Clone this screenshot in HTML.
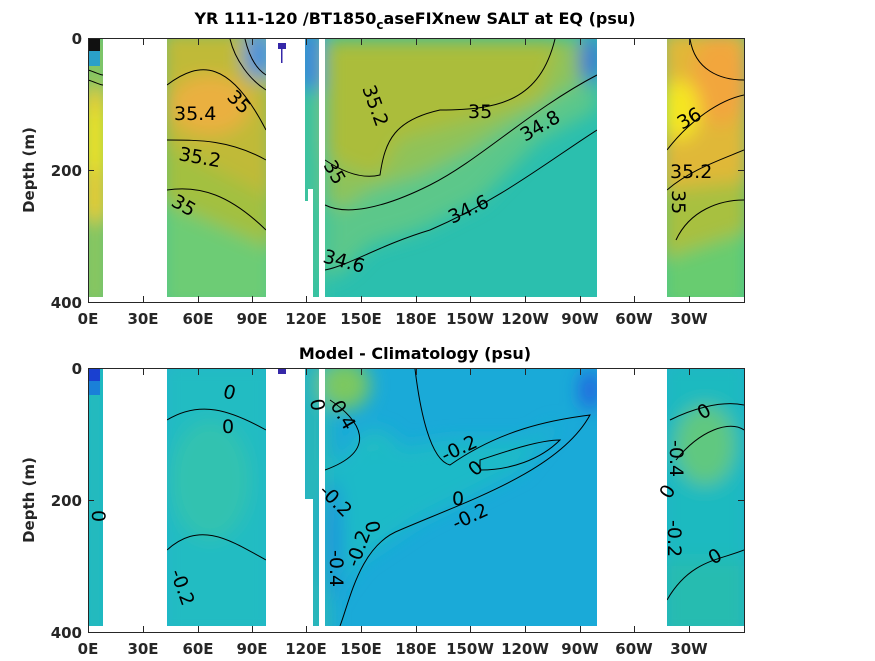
<!DOCTYPE html>
<html><head><meta charset="utf-8"><style>
body{margin:0;background:#fff;width:875px;height:656px;overflow:hidden}
svg text{font-family:"DejaVu Sans","Liberation Sans",sans-serif}
</style></head><body>
<svg width="875" height="656" xmlns="http://www.w3.org/2000/svg">
<defs>
<filter id="b" x="-20%" y="-20%" width="140%" height="140%"><feGaussianBlur stdDeviation="9"/></filter>
<clipPath id="c1"><rect x="88" y="39" width="15" height="258"/><rect x="167" y="39" width="99" height="258"/><rect x="305" y="39" width="8" height="150"/><rect x="305" y="189" width="3" height="12"/><rect x="313" y="39" width="6" height="258"/><rect x="325" y="39" width="272" height="258"/><rect x="667" y="39" width="77" height="258"/></clipPath>
<clipPath id="c2"><rect x="88" y="369" width="15" height="257"/><rect x="167" y="369" width="99" height="257"/><rect x="305" y="369" width="8" height="130"/><rect x="313" y="369" width="6" height="257"/><rect x="325" y="369" width="272" height="257"/><rect x="667" y="369" width="77" height="257"/></clipPath>
</defs>
<text x="415" y="24" font-size="16" font-weight="bold" text-anchor="middle">YR 111-120 /BT1850<tspan font-size="12" dy="5">c</tspan><tspan dy="-5">aseFIXnew SALT at EQ (psu)</tspan></text>
<text x="415" y="359" font-size="16" font-weight="bold" text-anchor="middle">Model - Climatology (psu)</text>

<!-- TOP -->
<g clip-path="url(#c1)">
<rect x="80" y="30" width="680" height="280" fill="#2bbfae"/>
<g filter="url(#b)">
<rect x="80" y="30" width="30" height="280" fill="#8ec65a"/>
<rect x="80" y="90" width="30" height="130" fill="#e9cc30"/>
<rect x="80" y="110" width="30" height="60" fill="#f0e020"/>
<rect x="160" y="30" width="115" height="280" fill="#6dcc74"/>
<polygon points="160,30 275,30 275,250 160,200" fill="#a3c040"/>
<polygon points="160,30 275,30 275,200 160,140" fill="#c0ba38"/>
<ellipse cx="210" cy="105" rx="40" ry="30" fill="#eab040"/>
<ellipse cx="258" cy="55" rx="14" ry="25" fill="#3a90e0"/>
<polygon points="325,39 597,39 597,110 540,140 480,200 420,230 370,245 345,270 325,280" fill="#5cc78a"/>
<polygon points="325,39 597,39 597,70 540,105 470,150 420,175 370,190 340,210 325,200" fill="#8ec35a"/>
<polygon points="325,39 560,39 540,100 470,120 400,140 380,175 355,170 335,160 325,150" fill="#abbd3a"/>
<rect x="300" y="30" width="20" height="280" fill="#40c49a"/>
<rect x="300" y="30" width="20" height="60" fill="#3a80e0"/>
<rect x="660" y="30" width="90" height="280" fill="#68cc70"/>
<polygon points="660,30 750,30 750,230 660,260" fill="#a8c040"/>
<polygon points="660,30 750,30 750,180 660,190" fill="#e0b838"/>
<ellipse cx="720" cy="80" rx="30" ry="45" fill="#f2a63c"/>
<ellipse cx="680" cy="110" rx="20" ry="30" fill="#f5e620"/>
<ellipse cx="590" cy="60" rx="10" ry="25" fill="#3a70d8"/>
</g>
<rect x="88" y="39" width="12" height="12" fill="#111"/>
<rect x="88" y="51" width="12" height="15" fill="#2aa0c8"/>
<g fill="none" stroke="#000" stroke-width="1">
<path d="M88,70 C95,72 100,75 103,75"/><path d="M88,80 C95,82 100,85 103,85"/>
<path d="M167,85 C200,60 230,60 266,130"/><path d="M167,140 C200,140 230,140 266,160"/><path d="M167,190 C200,185 230,195 266,230"/>
<path d="M230,39 C235,60 250,80 266,90"/><path d="M245,39 C250,60 258,70 266,75"/>
<path d="M325,160 C340,170 360,180 380,175 C385,140 395,120 440,110 C500,110 540,100 555,39"/>
<path d="M325,205 C345,215 380,210 430,185 C480,160 530,110 597,75"/>
<path d="M325,270 C350,265 380,245 430,230 C500,200 550,160 597,130"/>
<path d="M667,150 C690,120 720,100 744,95"/><path d="M667,190 C690,170 720,160 744,150"/><path d="M690,39 C695,70 720,80 744,80"/><path d="M676,240 C690,210 720,200 744,200"/>
</g>
</g>
<g font-size="19" fill="#000">
<text x="174" y="120">35.4</text><text x="226" y="98" transform="rotate(45 226 98)">35</text>
<text x="178" y="160" transform="rotate(10 178 160)">35.2</text><text x="170" y="205" transform="rotate(30 170 205)">35</text>
<text x="362" y="88" transform="rotate(70 362 88)">35.2</text><text x="468" y="118">35</text>
<text x="525" y="142" transform="rotate(-30 525 142)">34.8</text><text x="452" y="224" transform="rotate(-25 452 224)">34.6</text>
<text x="323" y="165" transform="rotate(60 323 165)">35</text><text x="322" y="262" transform="rotate(15 322 262)">34.6</text>
<text x="682" y="130" transform="rotate(-30 682 130)">36</text><text x="670" y="178">35.2</text><text x="672" y="190" transform="rotate(90 672 190)">35</text>
</g>
<rect x="278" y="43" width="8" height="6" fill="#3528a8"/><rect x="281" y="49" width="1.5" height="14" fill="#3528a8"/>

<!-- BOTTOM -->
<g clip-path="url(#c2)">
<rect x="80" y="360" width="680" height="280" fill="#1aaad8"/>
<g filter="url(#b)">
<rect x="80" y="360" width="30" height="280" fill="#24bcbc"/>
<rect x="160" y="360" width="115" height="280" fill="#22bcc2"/>
<ellipse cx="210" cy="480" rx="40" ry="60" fill="#30c2b0"/>
<rect x="300" y="360" width="30" height="280" fill="#2ab8b8"/>
<ellipse cx="345" cy="385" rx="25" ry="25" fill="#7cc860"/>
<ellipse cx="375" cy="470" rx="30" ry="40" fill="#20bcc4"/>
<polygon points="325,460 450,440 530,440 560,420 520,470 420,520 360,560 330,600" fill="#1ebac8"/>
<ellipse cx="333" cy="540" rx="8" ry="60" fill="#1a90e0"/>
<ellipse cx="590" cy="390" rx="10" ry="20" fill="#2060e0"/>
<rect x="660" y="360" width="90" height="280" fill="#1ebac0"/>
<ellipse cx="705" cy="445" rx="30" ry="40" fill="#60c880"/>
<rect x="660" y="560" width="90" height="80" fill="#28bcb0"/>
</g>
<rect x="88" y="369" width="12" height="12" fill="#1a40d0"/>
<rect x="88" y="381" width="12" height="14" fill="#1a80d8"/>
<g fill="none" stroke="#000" stroke-width="1">
<path d="M167,420 C200,400 230,410 266,430"/><path d="M167,550 C200,520 230,540 266,560"/>
<path d="M330,400 C360,420 380,450 325,470"/><path d="M415,369 C420,410 430,460 450,465 C500,430 550,420 590,415 C560,470 470,500 400,530 C360,545 350,600 340,626"/>
<path d="M480,460 C510,450 540,440 560,440 C540,460 510,470 480,470 Z"/>
<path d="M670,420 C690,410 720,400 744,405"/><path d="M667,600 C690,560 720,560 744,550"/><path d="M676,460 C700,430 730,420 744,430"/>
</g>
</g>
<g font-size="19" fill="#000">
<text x="222" y="397" transform="rotate(15 222 397)">0</text><text x="222" y="433">0</text>
<text x="92" y="510" transform="rotate(90 92 510)">0</text><text x="170" y="572" transform="rotate(70 170 572)">-0.2</text>
<text x="445" y="462" transform="rotate(-25 445 462)">-0.2</text><text x="475" y="477" transform="rotate(-40 475 477)">0</text>
<text x="452" y="505">0</text><text x="456" y="530" transform="rotate(-25 456 530)">-0.2</text>
<text x="318" y="492" transform="rotate(45 318 492)">-0.2</text><text x="365" y="522" transform="rotate(80 365 522)">0</text>
<text x="330" y="550" transform="rotate(90 330 550)">-0.4</text><text x="358" y="568" transform="rotate(-70 358 568)">-0.2</text>
<text x="310" y="400" transform="rotate(80 310 400)">0</text><text x="330" y="405" transform="rotate(60 330 405)">0.4</text>
<text x="702" y="420" transform="rotate(-30 702 420)">0</text><text x="670" y="440" transform="rotate(90 670 440)">-0.4</text>
<text x="670" y="500" transform="rotate(-60 670 500)">0</text><text x="668" y="520" transform="rotate(90 668 520)">-0.2</text>
<text x="713" y="565" transform="rotate(-30 713 565)">0</text>
</g>
<rect x="278" y="369" width="8" height="5" fill="#3528a8"/>

<!-- axes -->
<g fill="none" stroke="#262626" stroke-width="1">
<rect x="88.5" y="38.5" width="656" height="264"/>
<rect x="88.5" y="368.5" width="656" height="264"/>
</g>
<g stroke="#262626" stroke-width="1">
<path d="M143.5,39v6M198.5,39v6M252.5,39v6M306.5,39v6M361.5,39v6M416.5,39v6M470.5,39v6M525.5,39v6M580.5,39v6M634.5,39v6M689.5,39v6
M143.5,302v-6M198.5,302v-6M252.5,302v-6M306.5,302v-6M361.5,302v-6M416.5,302v-6M470.5,302v-6M525.5,302v-6M580.5,302v-6M634.5,302v-6M689.5,302v-6
M143.5,369v6M198.5,369v6M252.5,369v6M306.5,369v6M361.5,369v6M416.5,369v6M470.5,369v6M525.5,369v6M580.5,369v6M634.5,369v6M689.5,369v6
M143.5,632v-6M198.5,632v-6M252.5,632v-6M306.5,632v-6M361.5,632v-6M416.5,632v-6M470.5,632v-6M525.5,632v-6M580.5,632v-6M634.5,632v-6M689.5,632v-6
M88,170.5h6M744,170.5h-6M88,500.5h6M744,500.5h-6"/>
</g>
<g font-size="15" font-weight="bold" fill="#262626" text-anchor="end">
<text x="82" y="44">0</text><text x="82" y="176">200</text><text x="82" y="308">400</text>
<text x="82" y="374">0</text><text x="82" y="506">200</text><text x="82" y="638">400</text>
</g>
<g font-size="15" font-weight="bold" fill="#262626" text-anchor="middle">
<text x="88" y="324">0E</text><text x="143" y="324">30E</text><text x="198" y="324">60E</text><text x="252" y="324">90E</text><text x="306" y="324">120E</text><text x="361" y="324">150E</text><text x="416" y="324">180E</text><text x="470" y="324">150W</text><text x="525" y="324">120W</text><text x="580" y="324">90W</text><text x="634" y="324">60W</text><text x="689" y="324">30W</text>
<text x="88" y="654">0E</text><text x="143" y="654">30E</text><text x="198" y="654">60E</text><text x="252" y="654">90E</text><text x="306" y="654">120E</text><text x="361" y="654">150E</text><text x="416" y="654">180E</text><text x="470" y="654">150W</text><text x="525" y="654">120W</text><text x="580" y="654">90W</text><text x="634" y="654">60W</text><text x="689" y="654">30W</text>
<text x="34" y="170" transform="rotate(-90 34 170)">Depth (m)</text>
<text x="34" y="500" transform="rotate(-90 34 500)">Depth (m)</text>
</g>
</svg>
</body></html>
